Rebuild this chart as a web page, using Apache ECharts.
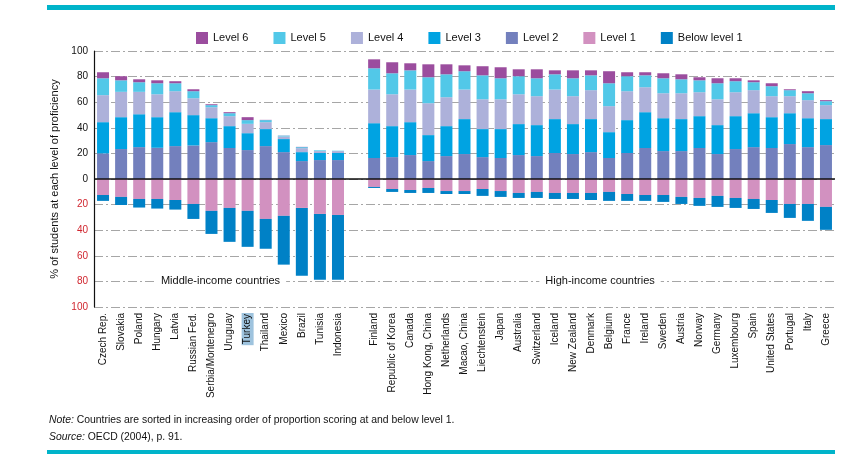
<!DOCTYPE html>
<html><head><meta charset="utf-8">
<script src="https://cdn.jsdelivr.net/npm/echarts@6/dist/echarts.min.js"></script>
<style>html,body{margin:0;padding:0;background:#fff}#c{width:863px;height:475px}</style>
</head><body><div id="c"></div>
<script>
const FONT = "'Liberation Sans','Arial',sans-serif";

const categories = ['Czech Rep.','Slovakia','Poland','Hungary','Latvia','Russian Fed.','Serbia/Montenegro','Uruguay','Turkey','Thailand','Mexico','Brazil','Tunisia','Indonesia','',
  'Finland','Republic of Korea','Canada','Hong Kong, China','Netherlands','Macao, China','Liechtenstein','Japan','Australia','Switzerland','Iceland','New Zealand','Denmark','Belgium','France','Ireland','Sweden','Austria','Norway','Germany','Luxembourg','Spain','United States','Portugal','Italy','Greece'];

const level6 = [4.7,3.2,2.3,2.3,1.6,1.5,0.7,0.8,2.3,0.2,0.1,0.2,0.0,0.0,null,
  7.0,8.6,5.5,10.1,7.8,4.6,7.1,8.6,5.4,7.0,3.1,6.2,3.9,9.4,3.1,2.4,3.9,3.9,2.4,3.9,2.3,1.5,2.3,0.7,1.6,0.8];
const level5 = [13.2,9.0,7.5,8.6,6.2,5.5,1.6,2.3,2.9,1.6,0.7,0.8,0.6,0.3,null,
  16.6,16.4,15.0,20.3,17.9,14.3,18.7,16.4,14.1,14.0,11.9,14.0,11.6,17.9,11.7,9.3,11.7,10.9,9.3,12.5,8.6,6.2,7.8,4.7,5.4,3.1];
const level4 = [21.1,19.8,17.5,17.9,16.4,13.2,8.6,7.8,7.3,5.4,2.0,3.1,1.5,1.5,null,
  26.3,24.9,25.5,24.9,22.6,23.1,23.3,23.3,23.3,22.6,23.1,21.8,22.6,20.3,22.6,19.5,19.5,20.2,18.7,20.2,18.7,18.0,16.4,13.3,14.1,10.9];
const level3 = [24.4,24.9,25.7,23.9,26.5,23.7,18.7,17.1,13.2,13.3,10.2,7.0,5.5,5.5,null,
  27.2,24.2,25.7,20.3,23.4,27.3,21.9,22.6,24.2,24.2,26.5,23.4,25.8,20.2,25.7,28.0,25.7,25.0,24.9,22.6,25.7,26.5,24.1,24.1,22.6,20.3];
const level2 = [20.0,23.4,24.9,24.4,25.7,26.2,28.8,24.2,22.6,25.7,21.0,14.0,14.8,14.8,null,
  16.4,17.1,18.7,14.0,17.9,19.5,17.1,16.4,18.7,17.9,20.3,19.5,21.0,16.4,20.3,24.2,21.8,21.8,24.2,19.5,23.4,24.9,24.2,27.3,24.9,26.5];
const level1 = [12.5,14.0,15.6,15.6,16.4,19.5,24.9,22.6,24.9,31.2,28.8,22.6,27.3,28.1,null,
  6.2,7.8,8.6,7.0,9.4,9.4,7.8,9.4,10.9,10.1,10.9,10.9,10.9,10.1,11.7,12.5,12.5,14.0,14.8,13.2,14.8,15.6,16.4,19.5,19.5,21.8];
const belowLevel1 = [4.6,6.3,6.7,7.5,7.5,11.7,18.0,26.5,28.1,23.3,38.1,53.0,51.4,50.6,null,
  0.8,2.3,2.3,3.9,2.3,2.3,5.4,4.6,3.9,4.7,4.7,4.7,5.5,7.0,5.4,4.6,5.4,5.5,6.2,8.6,7.8,7.8,10.1,10.9,13.2,17.9];

const colors = {
  'Level 6':'#9b4d9e','Level 5':'#52c8e8','Level 4':'#adb1da','Level 3':'#00a3e2',
  'Level 2':'#7380bd','Level 1':'#d291c0','Below level 1':'#0081c6'
};
const neg = a => a.map(v => v == null ? null : -v);

function bar(name, data, extra) {
  return Object.assign({
    name, type:'bar', stack:'p', data, barWidth:12,
    itemStyle:{color:colors[name]}, emphasis:{disabled:true}, animation:false
  }, extra || {});
}

const chart = echarts.init(document.getElementById('c'), null, {renderer:'canvas'});
const option = {
  animation:false,
  textStyle:{fontFamily:FONT},
  legend:{
    left:191, top:27, itemWidth:12, itemHeight:12, itemGap:25, icon:'rect',
    textStyle:{fontFamily:FONT, fontSize:11, color:'#111'},
    data:['Level 6','Level 5','Level 4','Level 3','Level 2','Level 1','Below level 1'],
    selectedMode:false
  },
  grid:{left:94, right:28, top:51, bottom:168, containLabel:false},
  xAxis:{
    type:'category', data:categories,
    axisLine:{show:false}, axisTick:{show:false},
    axisLabel:{
      interval:0, rotate:90, margin:6, fontFamily:FONT, fontSize:10, color:'#111',
      formatter: v => v === 'Turkey' ? '{hl|' + v + '}' : v,
      rich:{hl:{backgroundColor:'#9ec3de', fontFamily:FONT, fontSize:10, color:'#111', padding:[1,1,1,1]}}
    }
  },
  yAxis:{
    type:'value', min:-100, max:100, interval:20,
    name:'% of students at each level of proficiency', nameLocation:'middle', nameGap:32,
    nameTextStyle:{fontFamily:FONT, fontSize:11, color:'#111'},
    axisLine:{show:true, lineStyle:{color:'#111', width:1.2}},
    axisTick:{show:false},
    axisLabel:{
      margin:6, fontFamily:FONT, fontSize:10,
      formatter: v => String(Math.abs(v)),
      color: v => (v < 0 ? '#d0262f' : '#111')
    },
    splitLine:{show:true, lineStyle:{color:'#a6a6a6', width:1.2, type:[9,3,2,3]}}
  },
  series:[
    bar('Level 2', level2, {
      markLine:{silent:true, symbol:'none', animation:false,
        label:{show:false}, lineStyle:{color:'#111', width:1.5, type:'solid'},
        data:[{yAxis:0}]}
    }),
    bar('Level 3', level3),
    bar('Level 4', level4),
    bar('Level 5', level5),
    bar('Level 6', level6),
    bar('Level 1', neg(level1)),
    bar('Below level 1', neg(belowLevel1))
  ]
};
chart.setOption(option);

// annotations placed through the axes
const yLine = chart.convertToPixel({yAxisIndex:0}, -80);
const xMid = (chart.convertToPixel({xAxisIndex:0}, 6) + chart.convertToPixel({xAxisIndex:0}, 7)) / 2;
const xHigh = (chart.convertToPixel({xAxisIndex:0}, 27) + chart.convertToPixel({xAxisIndex:0}, 28)) / 2;
const teal = '#00b4ca';
chart.setOption({
  graphic:[
    {type:'rect', left:47, top:5, shape:{width:788, height:5}, style:{fill:teal}, silent:true},
    {type:'rect', left:47, top:450, shape:{width:788, height:4}, style:{fill:teal}, silent:true},
    {type:'text', x:xMid, y:yLine, style:{text:'Middle-income countries', fontFamily:FONT, fontSize:11, fill:'#111',
      align:'center', verticalAlign:'middle', backgroundColor:'#fff', padding:[2,6]}},
    {type:'text', x:xHigh, y:yLine, style:{text:'High-income countries', fontFamily:FONT, fontSize:11, fill:'#111',
      align:'center', verticalAlign:'middle', backgroundColor:'#fff', padding:[2,6]}},
    {type:'text', left:49, top:412, style:{
      text:'{i|Note:} Countries are sorted in increasing order of proportion scoring at and below level 1.\n{i|Source:} OECD (2004), p. 91.',
      fontFamily:FONT, fontSize:10.4, fill:'#111', lineHeight:17,
      rich:{i:{fontStyle:'italic', fontFamily:FONT, fontSize:10.4, fill:'#111'}}
    }}
  ]
});
</script></body></html>
